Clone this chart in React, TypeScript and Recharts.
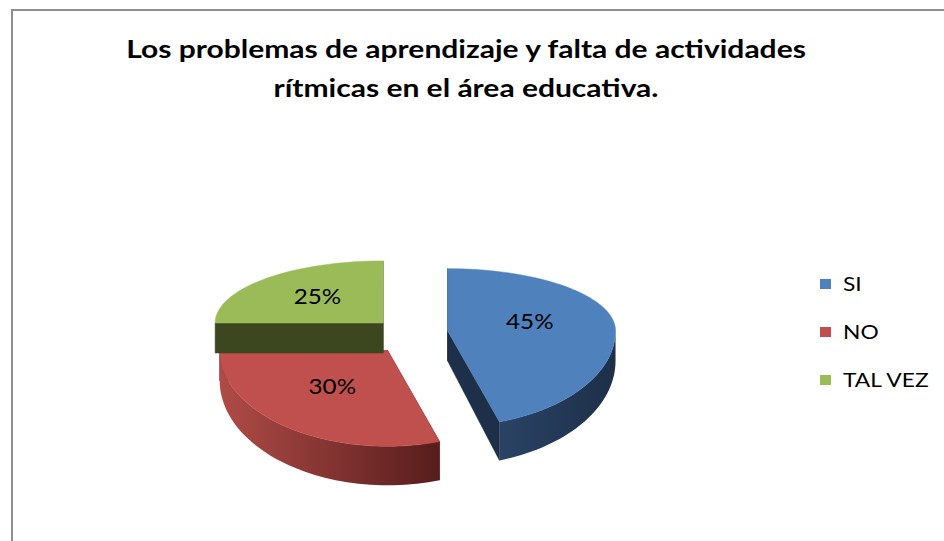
import React from 'react';
import { PieChart, Pie, Legend } from 'recharts';

const CATEGORIES = ['SI', 'NO', 'TAL VEZ'];
const VALUES = [45, 30, 25];
const TOP_COLORS = ['#4F81BD', '#C0504D', '#9BBB59'];
const SIDE_LIGHT = ['#2A4365', '#B04B47', '#4A5826'];
const SIDE_DARK = ['#1D2F49', '#561D1C', '#3C4720'];
const TITLE_LINES = ['Los problemas de aprendizaje y falta de actividades', 'rítmicas en el área educativa.'];

const data = CATEGORIES.map((name, i) => ({ name, value: VALUES[i], fill: TOP_COLORS[i] }));

const KB = 0.37;
const KF = 0.57;
const EXPLODE = 38;
const rad = (d: number) => (d * Math.PI) / 180;
const ky = (s: number) => (s > 0 ? KB : KF);
function pt(ox: number, oy: number, r: number, deg: number): [number, number] {
  const s = Math.sin(rad(deg));
  return [ox + r * Math.cos(rad(deg)), oy - r * s * ky(s)];
}
const depthAt = (deg: number) => 30 - 9 * Math.sin(rad(deg));
const origin = (cx: number, cy: number, mid: number) => pt(cx, cy, EXPLODE, mid);

function Slice3D(props: any) {
  const { cx, cy, outerRadius, startAngle, endAngle, index } = props;
  const a1 = Math.min(startAngle, endAngle);
  const a2 = Math.max(startAngle, endAngle);
  const mid = (a1 + a2) / 2;
  const [ox, oy] = origin(cx, cy, mid);
  const R = outerRadius;
  const arc = (from: number, to: number) => {
    const n = Math.max(2, Math.ceil(Math.abs(to - from) / 2));
    const out: [number, number, number][] = [];
    for (let i = 0; i <= n; i++) {
      const d = from + ((to - from) * i) / n;
      const [x, y] = pt(ox, oy, R, d);
      out.push([d, x, y]);
    }
    return out;
  };
  const top = arc(a1, a2);
  const topPath = `M${ox},${oy} ` + top.map(([, x, y]) => `L${x},${y}`).join(' ') + ' Z';
  const dC = depthAt(0);
  const walls = [a1, a2].map((e) => {
    const [x, y] = pt(ox, oy, R, e);
    const d = depthAt(e);
    return `M${ox},${oy} L${x},${y} L${x},${y + d} L${ox},${oy + dC} Z`;
  });
  const fronts: string[] = [];
  for (const k of [-360, 0, 360]) {
    const lo = Math.max(a1, -180 + k);
    const hi = Math.min(a2, k);
    if (hi > lo) {
      const pts = arc(lo, hi);
      const fwd = pts.map(([, x, y], i) => `${i === 0 ? 'M' : 'L'}${x},${y}`).join(' ');
      const back = pts
        .slice()
        .reverse()
        .map(([d, x, y]) => `L${x},${y + depthAt(d)}`)
        .join(' ');
      fronts.push(`${fwd} ${back} Z`);
    }
  }
  const gid = `side-grad-${index}`;
  return (
    <g>
      <defs>
        <linearGradient id={gid} x1="0" y1="0" x2="1" y2="0">
          <stop offset="0%" stopColor={SIDE_LIGHT[index]} />
          <stop offset="100%" stopColor={SIDE_DARK[index]} />
        </linearGradient>
      </defs>
      {walls.map((w, i) => (
        <path key={i} d={w} fill={SIDE_DARK[index]} stroke={SIDE_DARK[index]} strokeWidth={0.5} />
      ))}
      {fronts.map((f, i) => (
        <path key={`f${i}`} d={f} fill={`url(#${gid})`} stroke="none" />
      ))}
      <path d={topPath} fill={TOP_COLORS[index]} stroke={TOP_COLORS[index]} strokeWidth={0.5} />
    </g>
  );
}

function renderLabel(props: any) {
  const { cx, cy, outerRadius, startAngle, endAngle, midAngle, percent } = props;
  const mid = startAngle != null && endAngle != null ? (startAngle + endAngle) / 2 : midAngle;
  const [ox, oy] = origin(cx, cy, mid);
  const [x, y] = pt(ox, oy, outerRadius * 0.52, mid);
  return (
    <text
      transform={`translate(${x - 4},${y - 5}) scale(1.1,1)`}
      x={0}
      y={0}
      textAnchor="middle"
      dominantBaseline="central"
      fontFamily="Lato"
      fontSize={22}
      fill="#000"
    >
      {`${Math.round(percent * 100)}%`}
    </text>
  );
}

const renderLegend = () => (
  <div style={{ position: 'relative', width: 124, height: 130 }}>
    {CATEGORIES.map((c, i) => (
      <div
        key={c}
        style={{ position: 'absolute', left: 0, top: i * 48, height: 20, display: 'flex', alignItems: 'center', whiteSpace: 'nowrap' }}
      >
        <span style={{ width: 11, height: 10, background: TOP_COLORS[i], display: 'inline-block', marginRight: 12 }} />
        <span
          style={{
            fontFamily: 'Lato',
            fontSize: 19,
            color: '#000',
            lineHeight: '20px',
            display: 'inline-block',
            transform: 'scaleX(1.2)',
            transformOrigin: 'left center',
          }}
        >
          {c}
        </span>
      </div>
    ))}
  </div>
);

export default function App() {
  return (
    <div style={{ position: 'fixed', left: 0, top: 0, width: 944, height: 541, background: '#fff', overflow: 'hidden' }}>
      <div
        style={{
          position: 'absolute',
          left: 11,
          top: 9,
          width: 940,
          height: 540,
          borderTop: '2px solid #8f8f8f',
          borderLeft: '2px solid #8f8f8f',
          boxSizing: 'border-box',
        }}
      />
      <div
        style={{
          position: 'absolute',
          left: 0,
          top: 29,
          width: 932,
          textAlign: 'center',
          fontFamily: 'Lato',
          fontWeight: 700,
          fontSize: 24,
          lineHeight: '39px',
          color: '#000',
          transform: 'scaleX(1.25)',
          transformOrigin: '466px 0',
        }}
      >
        {TITLE_LINES.map((l) => (
          <div key={l}>{l}</div>
        ))}
      </div>
      <div style={{ position: 'absolute', left: 0, top: 0 }}>
        <PieChart width={944} height={541} margin={{ top: 0, right: 0, bottom: 0, left: 0 }}>
          <Pie
            data={data}
            dataKey="value"
            nameKey="name"
            cx={410}
            cy={333}
            outerRadius={168}
            startAngle={90}
            endAngle={-270}
            isAnimationActive={false}
            shape={Slice3D}
            label={renderLabel}
            labelLine={false}
          />
          <Legend content={renderLegend} wrapperStyle={{ position: 'absolute', left: 820, top: 274, width: 124 }} />
        </PieChart>
      </div>
    </div>
  );
}
